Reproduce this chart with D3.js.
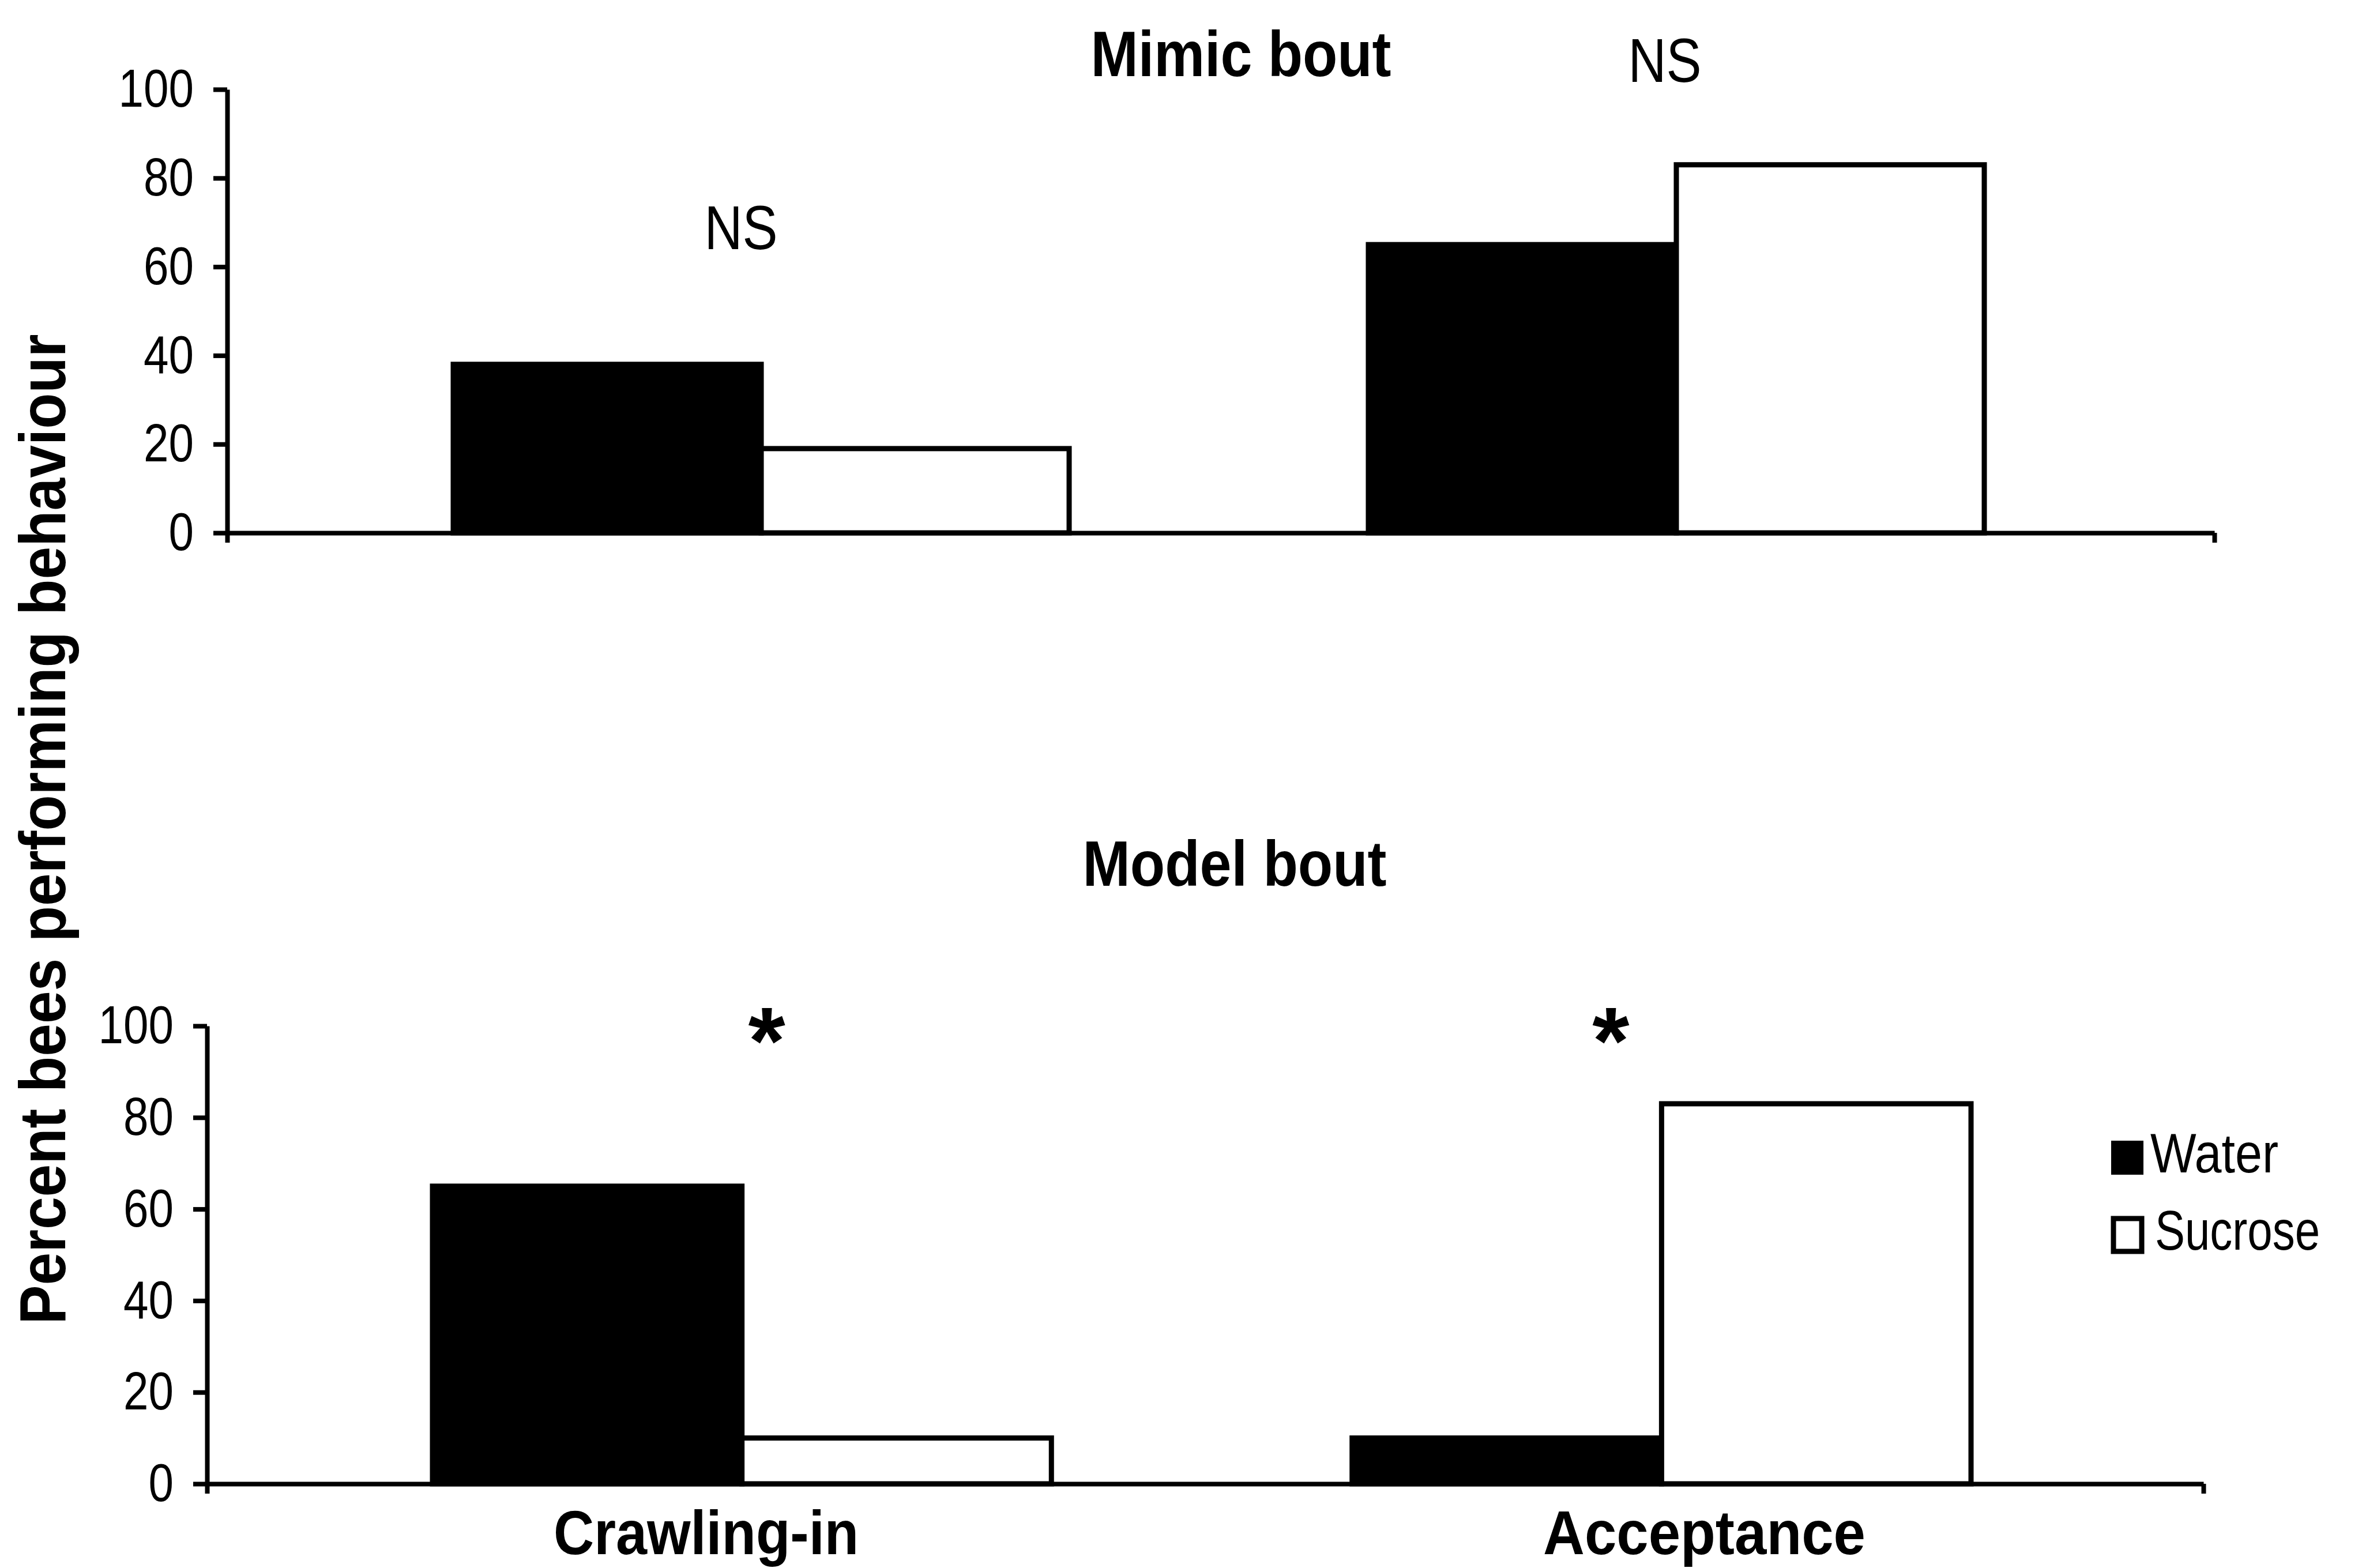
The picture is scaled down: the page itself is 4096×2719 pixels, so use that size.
<!DOCTYPE html>
<html>
<head>
<meta charset="utf-8">
<script src="https://d3js.org/d3.v7.min.js"></script>
<style>
  body { margin: 0; background: #fff; }
  text { font-family: "Liberation Sans", Arial, sans-serif; fill: #000; }
</style>
</head>
<body>
<script>
// data (percent of bees)
var categories = ["Crawling-in", "Acceptance"];
var series = ["Water", "Sucrose"];
var mimicWater = [38, 65];
var mimicSucrose = [19, 83];
var modelWater = [65, 10];
var modelSucrose = [10, 83];
var yTicks = [0, 20, 40, 60, 80, 100];
// significance marks: category, label, baseline in % units
var mimicNotes = [
  {cat: "Crawling-in", text: "NS", y: 64},
  {cat: "Acceptance", text: "NS", y: 101.7}
];
var modelNotes = [
  {cat: "Crawling-in", text: "*", y: 89.5},
  {cat: "Acceptance", text: "*", y: 89.5}
];

var width = 4096, height = 2719;

var svg = d3.select("body").append("svg")
    .attr("width", width)
    .attr("height", height);
svg.append("rect").attr("width", width).attr("height", height).attr("fill", "#fff");

var panels = [
  {title: "Mimic bout", titleX: 2152, titleY: 132, titleLen: 521,
   water: mimicWater, sucrose: mimicSucrose, notes: mimicNotes, noteDx: [-35, -20],
   left: 394, right: 3840, top: 155, bottom: 924, barRange: [786, 3441]},
  {title: "Model bout", titleX: 2141, titleY: 1536, titleLen: 527,
   water: modelWater, sucrose: modelSucrose, notes: modelNotes, noteDx: [43, -88],
   left: 359, right: 3821, top: 1779, bottom: 2573, barRange: [750, 3418]}
];

var lineW = 8;

panels.forEach(function(p, pi) {
  var g = svg.append("g");

  var y = d3.scaleLinear().domain([0, 100]).range([p.bottom, p.top]);
  var x0 = d3.scaleBand().domain(categories).range(p.barRange).paddingInner(0.327).paddingOuter(0);
  var x1 = d3.scaleBand().domain(series).range([0, x0.bandwidth()]).padding(0);

  var rows = categories.map(function(c, i) {
    return {cat: c, values: [{key: "Water", v: p.water[i]}, {key: "Sucrose", v: p.sucrose[i]}]};
  });

  // bars
  var grp = g.selectAll(".grp")
      .data(rows)
    .enter().append("g")
      .attr("transform", function(d) { return "translate(" + x0(d.cat) + ",0)"; });

  grp.selectAll("rect")
      .data(function(d) { return d.values; })
    .enter().append("rect")
      .attr("x", function(d) { return x1(d.key); })
      .attr("y", function(d) { return y(d.v); })
      .attr("width", x1.bandwidth())
      .attr("height", function(d) { return y(0) - y(d.v); })
      .attr("fill", function(d) { return d.key == "Water" ? "#000" : "#fff"; })
      .attr("stroke", "#000")
      .attr("stroke-width", 9);

  // y axis
  var yAxis = g.append("g")
      .attr("transform", "translate(" + p.left + ",0)")
      .call(d3.axisLeft(y).tickValues(yTicks).tickSize(24).tickSizeOuter(0).tickPadding(34));
  yAxis.selectAll("text")
      .attr("font-size", 93)
      .attr("font-family", "Liberation Sans, Arial, sans-serif")
      .attr("textLength", function(d) { return String(d).length * 43.5; })
      .attr("lengthAdjust", "spacingAndGlyphs");

  // x axis (category line with end ticks)
  var xLine = d3.scaleLinear().domain([0, 1]).range([p.left, p.right]);
  g.append("g")
      .attr("transform", "translate(0," + p.bottom + ")")
      .call(d3.axisBottom(xLine).tickValues([0, 1]).tickSize(17).tickSizeOuter(0).tickFormat(""));

  g.selectAll(".domain, .tick line")
      .attr("stroke", "#000")
      .attr("stroke-width", lineW);

  // title
  g.append("text")
      .attr("x", p.titleX)
      .attr("y", p.titleY)
      .attr("text-anchor", "middle")
      .attr("font-weight", "bold")
      .attr("font-size", 112)
      .attr("textLength", p.titleLen)
      .attr("lengthAdjust", "spacingAndGlyphs")
      .text(p.title);

  // significance labels
  g.selectAll(".note")
      .data(p.notes)
    .enter().append("text")
      .attr("x", function(d, i) { return x0(d.cat) + x0.bandwidth() / 2 + p.noteDx[i]; })
      .attr("y", function(d) { return y(d.y); })
      .attr("text-anchor", "middle")
      .attr("font-weight", function(d) { return d.text == "*" ? "bold" : "normal"; })
      .attr("font-size", function(d) { return d.text == "*" ? 165 : 108; })
      .attr("textLength", function(d) { return d.text == "*" ? null : 127; })
      .attr("lengthAdjust", "spacingAndGlyphs")
      .text(function(d) { return d.text; });

  // category labels under the lower panel
  if (pi == 1) {
    var xc = d3.scaleBand().domain(categories).range([p.left, p.right]);
    var catLen = {"Crawling-in": 529, "Acceptance": 559};
    g.selectAll(".cat")
        .data(categories)
      .enter().append("text")
        .attr("x", function(d) { return xc(d) + xc.bandwidth() / 2; })
        .attr("y", 2695)
        .attr("text-anchor", "middle")
        .attr("font-weight", "bold")
        .attr("font-size", 108)
        .attr("textLength", function(d) { return catLen[d]; })
        .attr("lengthAdjust", "spacingAndGlyphs")
        .text(function(d) { return d; });
  }
});

// legend
var legend = svg.append("g").attr("transform", "translate(3661,1978)");
var legLen = {"Water": 222, "Sucrose": 286};
var li = legend.selectAll(".leg")
    .data(series)
  .enter().append("g")
    .attr("transform", function(d, i) { return "translate(0," + (i * 131) + ")"; });
li.append("rect")
    .attr("x", function(d) { return d == "Water" ? 0 : 4; })
    .attr("y", function(d) { return d == "Water" ? 0 : 4; })
    .attr("width", function(d) { return d == "Water" ? 56 : 49; })
    .attr("height", function(d) { return d == "Water" ? 59 : 57; })
    .attr("fill", function(d) { return d == "Water" ? "#000" : "#fff"; })
    .attr("stroke", "#000")
    .attr("stroke-width", function(d) { return d == "Water" ? 0 : 9; });
li.append("text")
    .attr("x", function(d) { return d == "Water" ? 68 : 76; })
    .attr("y", function(d) { return d == "Water" ? 55 : 58; })
    .attr("font-size", 97)
    .attr("textLength", function(d) { return legLen[d]; })
    .attr("lengthAdjust", "spacingAndGlyphs")
    .text(function(d) { return d; });

// y axis title
svg.append("text")
    .attr("transform", "translate(113,1438) rotate(-90)")
    .attr("text-anchor", "middle")
    .attr("font-weight", "bold")
    .attr("font-size", 114)
    .attr("textLength", 1717)
    .attr("lengthAdjust", "spacingAndGlyphs")
    .text("Percent bees performing behaviour");
</script>
</body>
</html>
